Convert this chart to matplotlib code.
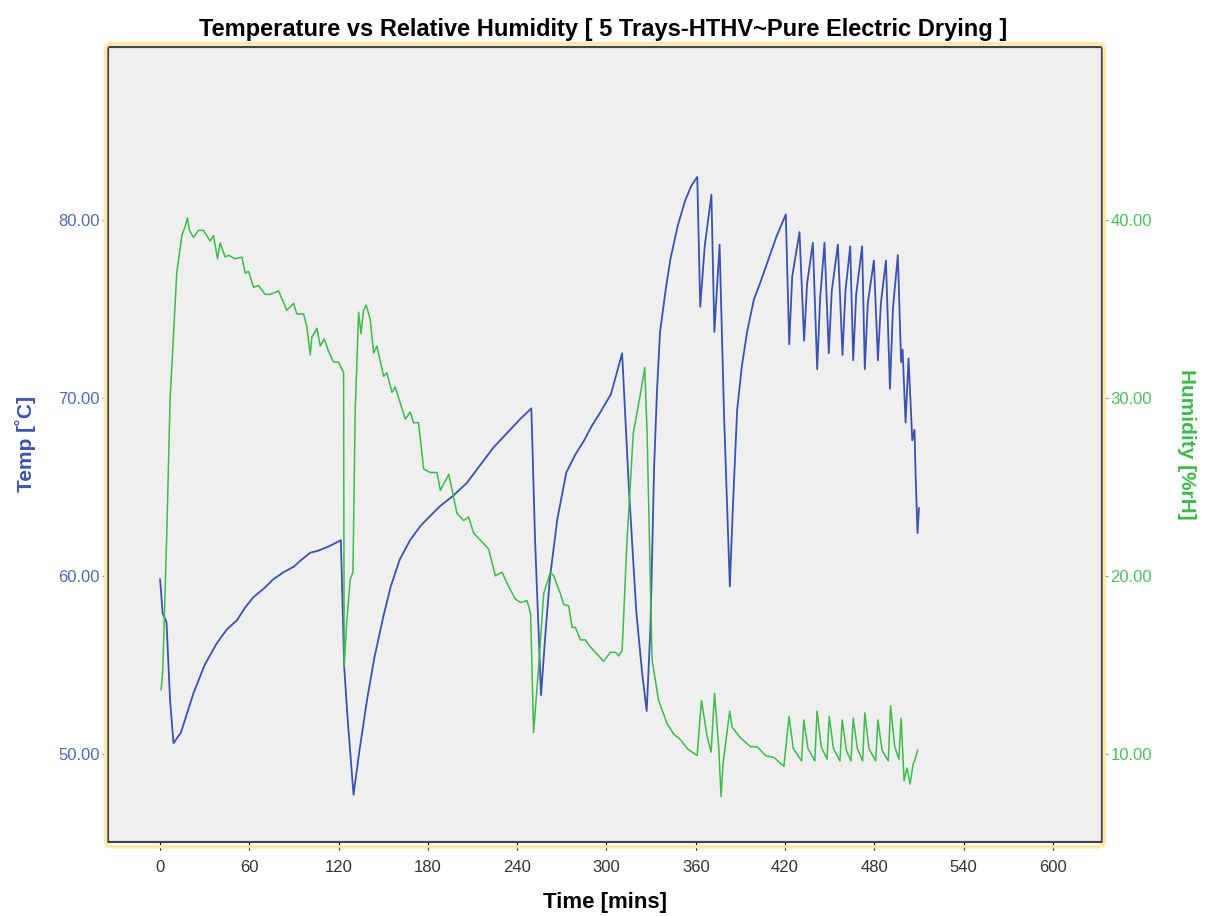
import matplotlib.pyplot as plt
from matplotlib.patches import FancyBboxPatch

# Temperature (blue, left axis)
temp_t = [0, 1.7, 4.3, 6.7, 9, 14, 22.4, 30, 38, 45, 51.6, 57, 62.7, 70, 76, 83, 89.7, 95, 101, 106, 112, 117, 121.5,
          123.7, 126, 130, 134, 139, 144, 150, 155, 161, 168, 175, 182, 188, 197, 206, 215, 224, 233, 242, 249.5,
          252, 256, 259, 262, 267, 273, 279, 285, 290, 296, 303, 310.5, 315, 320, 324, 327, 329.5, 332, 334, 336,
          340, 343, 348, 353, 357, 361, 363, 366, 370.5, 372.5, 376, 379, 382.9, 385, 387.8, 391, 394.5, 399, 403.5,
          409, 414, 420.5,
          422.8, 424.8, 429.7, 432.8, 434.8, 438.7, 441.6, 443.6, 446.5, 449.4, 451.4, 455.5, 458.6, 460.6, 463.8,
          465.8, 467.8, 471.8, 473.6, 475.6, 479.7, 482.4, 484.4, 487.8, 490.5, 492.5, 495.8,
          498, 499, 501, 503, 505.5, 507, 507.7, 509, 510]
temp_v = [59.8, 57.9, 57.4, 53.0, 50.6, 51.2, 53.4, 55.0, 56.2, 57.0, 57.5, 58.2, 58.8, 59.3, 59.8, 60.2, 60.5, 60.9, 61.3, 61.4, 61.6, 61.8, 62.0,
          54.9, 52.0, 47.7, 50.2, 53.0, 55.4, 57.7, 59.4, 60.9, 62.0, 62.8, 63.4, 63.9, 64.5, 65.2, 66.2, 67.2, 68.0, 68.8, 69.4,
          62.0, 53.3, 56.8, 59.9, 63.2, 65.8, 66.8, 67.6, 68.4, 69.2, 70.2, 72.5, 65.0, 58.0, 54.5, 52.4, 57.0, 66.1, 70.5, 73.7,
          76.2, 77.8, 79.7, 81.1, 81.9, 82.4, 75.1, 78.5, 81.4, 73.7, 78.6, 69.0, 59.4, 64.0, 69.3, 71.8, 73.7, 75.5, 76.5,
          77.8, 79.0, 80.3,
          73.0, 76.8, 79.3, 73.2, 76.4, 78.7, 71.6, 75.6, 78.7, 72.5, 76.0, 78.6, 72.4, 76.0, 78.5,
          72.1, 75.8, 78.5, 71.6, 75.3, 77.7, 72.1, 75.3, 77.7, 70.5, 75.0, 78.0,
          72.0, 72.7, 68.6, 72.2, 67.6, 68.2, 65.8, 62.4, 63.8]

# Relative humidity (green, right axis)
hum_t = [0.7, 1.8, 4.5, 6.7, 11.2, 14.6, 16.8, 18.4, 19.7, 22.4, 25.8, 29.1, 31.4, 33.6, 35.9, 38.6, 40.3, 43.7, 46,
         50.4, 55, 57.2, 59.4, 62.8, 66.1, 70.6, 74, 79.6, 85.2, 89.7, 91.9, 96.4, 98.6, 100.9, 102, 105.4, 107.6,
         110.3, 113.2, 116.6, 119.9, 122.2, 123.3, 123.7, 125.5, 127.8, 129.6, 131.1, 133.4, 135, 136.7, 138.5, 141.2,
         143.5, 145.7, 150.2, 152.4, 155.8, 158, 164.8, 168.1, 170.3, 173.7, 177.1, 181.6, 186.1, 188.3, 194, 199.5,
         204, 207.3, 210.7, 217.4, 220.8, 225.3, 229.8, 234.2, 238.7, 242.1, 246.6, 249, 251, 254.4, 257.8, 262.3,
         264.5, 269, 271.2, 274.6, 276.9, 279.1, 282.5, 285.8, 289.2, 293.7, 298.1, 302.6, 306, 308.2, 310.5, 313.8,
         318, 323, 325.7, 327.3, 330.6, 335, 340.7, 345.2, 349.7, 354.2, 360.9, 363.8, 367.6, 370.3, 372.6, 375.4,
         377, 378.4, 382.8, 384.4, 390, 396.8, 401.3, 406.9, 412.5, 419.2,
         422.7, 425.5, 431.1, 432.6, 435.4, 440, 441.5, 444.3, 448.2, 449.7, 452.5, 456.9, 458.4, 461.2, 464.3,
         465.8, 468.6, 472.1, 473.6, 476.4, 480.9, 482.4, 485.2, 489.4, 490.9, 493.7, 496.5,
         498, 500, 502, 504, 506, 507.5, 509]
hum_v = [13.6, 14.7, 22.4, 29.9, 37.0, 39.1, 39.6, 40.1, 39.4, 39.0, 39.4, 39.4, 39.1, 38.8, 39.1, 37.8, 38.7, 37.9, 38.0,
         37.8, 37.9, 37.0, 37.1, 36.2, 36.3, 35.8, 35.8, 36.0, 34.9, 35.3, 34.7, 34.7, 34.0, 32.4, 33.4, 33.9, 32.9,
         33.3, 32.6, 32.0, 32.0, 31.6, 31.4, 14.9, 17.5, 19.8, 20.2, 29.2, 34.8, 33.6, 34.9, 35.2, 34.4,
         32.5, 32.9, 31.2, 31.4, 30.3, 30.6, 28.8, 29.2, 28.6, 28.6, 26.0, 25.8, 25.8, 24.8, 25.7, 23.5,
         23.1, 23.3, 22.4, 21.8, 21.5, 20.0, 20.2, 19.4, 18.7, 18.5, 18.6, 17.9, 11.2, 14.9, 19.0, 20.2,
         20.0, 19.0, 18.4, 18.3, 17.1, 17.1, 16.4, 16.4, 16.0, 15.6, 15.2, 15.7, 15.7, 15.5, 15.8, 22.0,
         28.0, 30.3, 31.7, 28.0, 15.3, 13.0, 11.7, 11.1, 10.8, 10.3, 9.9, 13.0, 11.0, 10.1, 13.4, 10.4,
         7.6, 9.5, 12.4, 11.5, 10.9, 10.4, 10.4, 9.9, 9.8, 9.3,
         12.1, 10.3, 9.6, 11.9, 10.3, 9.6, 12.4, 10.4, 9.7, 12.1, 10.3, 9.6, 11.9, 10.2, 9.6,
         12.0, 10.3, 9.6, 12.3, 10.3, 9.6, 11.9, 10.2, 9.6, 12.7, 10.4, 9.7,
         12.0, 8.5, 9.2, 8.3, 9.4, 9.7, 10.2]

x_ticks = list(range(0, 601, 60))
temp_ticks = [50, 60, 70, 80]
hum_ticks = [10, 20, 30, 40]

blue = '#3b52b0'
green = '#3dbb4c'

plt.rcParams['font.family'] = ['Liberation Sans', 'DejaVu Sans']

fig = plt.figure(figsize=(12.07, 9.16), dpi=100)
ax = fig.add_axes([0.0895, 0.0808, 0.8235, 0.868])
ax2 = ax.twinx()

# light yellow border around the plot area (like the SPSS chart frame)
frame = FancyBboxPatch((0.0875, 0.0755), 0.8275, 0.877, boxstyle='round,pad=0,rounding_size=0.006',
                       transform=fig.transFigure, facecolor='none', edgecolor='#fce9a8', lw=2.5, zorder=0)
fig.patches.append(frame)

ax.set_facecolor('#efefef')
ax.plot(temp_t, temp_v, color=blue, lw=1.3, zorder=3)
ax2.plot(hum_t, hum_v, color=green, lw=1.1, zorder=2)

ax.set_xlim(-35, 633)
ax.set_ylim(45.05, 89.7)
ax2.set_ylim(5.05, 49.7)

ax.set_xticks(x_ticks)
ax.set_yticks(temp_ticks)
ax.set_yticklabels([f'{v:.2f}' for v in temp_ticks], color='#5566b8', fontsize=12)
ax2.set_yticks(hum_ticks)
ax2.set_yticklabels([f'{v:.2f}' for v in hum_ticks], color='#4cc25a', fontsize=12)
ax.tick_params(axis='x', labelsize=12, labelcolor='#333333', length=6, direction='out', pad=7)
ax.tick_params(axis='y', length=4, color='#8890c8', pad=2)
ax2.tick_params(axis='y', length=4, color=green, pad=2)

for sp in ax.spines.values():
    sp.set_color('#444444')
    sp.set_linewidth(1.5)
for sp in ax2.spines.values():
    sp.set_color('#444444')
    sp.set_linewidth(1.5)

ax.set_xlabel('Time [mins]', fontsize=16, fontweight='bold', labelpad=12)
ax.set_ylabel('Temp [˚C]', fontsize=15, fontweight='bold', color=blue, labelpad=16)
ax2.set_ylabel('Humidity [%rH]', fontsize=15, fontweight='bold', color=green, rotation=270, labelpad=32)
fig.suptitle('Temperature vs Relative Humidity [ 5 Trays-HTHV~Pure Electric Drying ]',
             fontsize=17, fontweight='bold', y=0.98)

fig.savefig('out.png', dpi=100)
